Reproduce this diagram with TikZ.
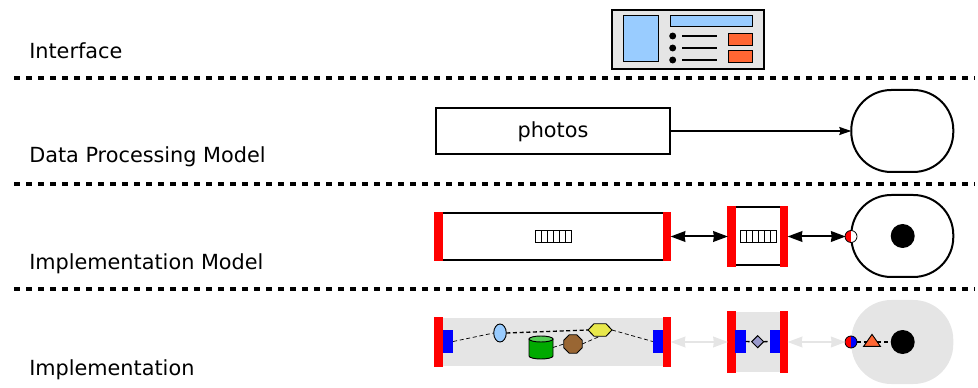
\documentclass[tikz,border=0pt]{standalone}
\usepackage{fontspec}
\setmainfont{DejaVu Sans}
\usepackage{xcolor}
\usetikzlibrary{positioning}
\usetikzlibrary{arrows.meta,shapes.geometric}
\definecolor{panelgray}{HTML}{E5E5E5}
\definecolor{skyblue}{HTML}{99CCFF}
\definecolor{orangered}{HTML}{FF6633}
\definecolor{filteryellow}{HTML}{E8E84C}
\definecolor{workerbrown}{HTML}{996633}
\definecolor{storegreen}{HTML}{00AA00}
\definecolor{storetop}{HTML}{55CC55}
\definecolor{switchblue}{HTML}{9999CC}
\tikzset{
  rowlabel/.style={anchor=base west, inner sep=0pt, font=\fontsize{15.6pt}{18pt}\selectfont},
  rowline/.style={line width=2.7pt, dash pattern=on 4.5pt off 4.5pt},
  redbar/.style={fill=red, inner sep=0pt, outer sep=0pt, minimum width=6.4pt},
  bluebar/.style={fill=blue, inner sep=0pt, outer sep=0pt, minimum width=7.8pt, minimum height=17.2pt},
  box/.style={draw=black, line width=1.5pt, inner sep=0pt, outer sep=0pt},
  graybox/.style={fill=panelgray, inner sep=0pt, outer sep=0pt},
  oval/.style={rectangle, rounded corners=30pt, inner sep=0pt, outer sep=0pt, minimum width=76.5pt},
  cell/.style={draw=black, line width=0.6pt, fill=white, inner sep=0pt, outer sep=0pt, minimum width=4.5pt, minimum height=9.4pt},
  part/.style={draw=black, line width=0.7pt, inner sep=0pt, outer sep=0pt},
  dot/.style={circle, fill=black, inner sep=0pt, outer sep=0pt, minimum size=18pt},
  wire/.style={densely dashed, line width=0.55pt},
  thickwire/.style={densely dashed, line width=1pt},
  biarrow/.style={{Stealth[length=11pt,width=8pt,inset=0.5pt]}-{Stealth[length=11pt,width=8pt,inset=0.5pt]}, line width=1.5pt, shorten <=-0.5pt, shorten >=-0.5pt},
  grayarrow/.style={biarrow, draw=panelgray, fill=panelgray},
}
\begin{document}
\begin{tikzpicture}[x=0.75pt,y=-0.75pt]
 \useasboundingbox (0,0) rectangle (978,388);

 % layer names and separators
 \foreach \y/\name in {59/Interface,163/Data Processing Model,270/Implementation Model,375/Implementation}{
   \node[rowlabel] at (29,\y) {\name};
 }
 \foreach \y in {78,184,289}{
   \draw[rowline] (14,\y) -- (975,\y);
 }

 % interface
 \node[part, line width=1.5pt, fill=panelgray, minimum width=114pt, minimum height=44pt] (screen) at (687.5,39.5) {};
 \node[part, fill=skyblue, minimum width=26.2pt, minimum height=35.2pt] (picture) at (640.5,38.5) {};
 \node[part, fill=skyblue, minimum width=61.5pt, minimum height=8.5pt] (title) at (711,21) {};
 \foreach \y in {36,48,60}{
   \node[circle, fill=black, inner sep=0pt, minimum size=5.2pt] (bullet\y) at (672.7,\y) {};
   \coordinate (textend\y) at (717,\y);
   \draw[line width=1.5pt] (682,\y) -- (textend\y);
 }
 \node[part, fill=orangered, minimum width=18pt, minimum height=9pt] (buttona) at (740,39) {};
 \node[part, fill=orangered, minimum width=18pt, minimum height=9pt] (buttonb) at (740,56) {};

 % data processing model
 \node[box, minimum width=175.5pt, minimum height=34.5pt, font=\fontsize{15.6pt}{18pt}\selectfont] (photos) at (553,131) {\raisebox{-4.6pt}[0pt][0pt]{photos}};
 \node[box, oval, minimum height=61.5pt] (viewa) at (902.3,131) {};
 \draw[line width=1.1pt, -{Stealth[length=9pt,width=6pt,inset=1pt]}] (photos) -- (viewa);

 % implementation model
 \node[box, minimum width=167pt, minimum height=35pt] (modela) at (552.5,236.5) {};
 \node[box, minimum width=39pt, minimum height=43.5pt] (modelb) at (757.5,236.5) {};
 \node[box, oval, minimum height=61.5pt] (viewb) at (902.3,236) {};
 \node[redbar, minimum height=36.5pt] (bara) at (438.5,236.5) {};
 \node[redbar, minimum height=36.5pt] (barb) at (667,236.5) {};
 \node[redbar, minimum height=45.8pt] (barc) at (731.5,236.5) {};
 \node[redbar, minimum height=45.8pt] (bard) at (784,236.5) {};
 \foreach \i in {0,...,5}{
   \node[cell] (cella\i) at (538+\i*6,236.5) {};
   \node[cell] (cellb\i) at (743+\i*6,236.5) {};
 }
 \node[circle, draw=black, line width=0.6pt, fill=white, inner sep=0pt, outer sep=0pt, minimum size=9pt, path picture={\fill[red] (path picture bounding box.south west) rectangle (path picture bounding box.north);}] (porta) at (851,236.5) {};
 \node[dot] (corea) at (902.7,236) {};
 \draw[biarrow] (barb.east) -- (barc.west);
 \draw[biarrow] (bard.east) -- (porta.west);

 % implementation
 \node[graybox, minimum width=167pt, minimum height=36pt] (implb) at (552.5,342) {};
 \node[graybox, minimum width=39pt, minimum height=45pt] (implc) at (757.5,342) {};
 \node[graybox, oval, minimum height=63pt] (viewc) at (902.3,342) {};
 \node[redbar, minimum height=36.8pt] (bare) at (438.5,342) {};
 \node[redbar, minimum height=36.8pt] (barf) at (667,342) {};
 \node[redbar, minimum height=45.8pt] (barg) at (731.5,342) {};
 \node[redbar, minimum height=45.8pt] (barh) at (784,342) {};
 \node[bluebar] (bluee) at (448,341.5) {};
 \node[bluebar] (bluef) at (658,341.5) {};
 \node[bluebar] (blueg) at (740.5,341.5) {};
 \node[bluebar] (blueh) at (774.7,341.5) {};
 \node[part, ellipse, fill=skyblue, minimum width=9.4pt, minimum height=13.5pt] (source) at (500,333) {};
 \node[part, regular polygon, regular polygon sides=6, fill=filteryellow, xscale=1.2, yscale=0.72, minimum size=15pt] (filter) at (600,330) {};
 \node[inner sep=0pt, outer sep=0pt, minimum width=18pt, minimum height=17.5pt] (store) at (541,347.5) {};
 \draw[part, fill=storegreen] (529,339) -- (529,356) arc (180:0:12 and 3) -- (553,339) -- cycle;
 \draw[part, fill=storetop] (541,339) ellipse (12 and 3);
 \node[part, regular polygon, regular polygon sides=8, fill=workerbrown, minimum size=15pt] (worker) at (573,344) {};
 \draw[wire] (bluee.east) -- (source.west);
 \draw[thickwire] (source.east) -- (filter.west);
 \draw[wire] (filter.east) -- (bluef.west);
 \draw[wire] (store.east) -- (worker.west);
 \draw[wire] (worker.east) -- (filter.south);
 \node[part, diamond, fill=switchblue, minimum size=9pt] (switch) at (757.7,341.7) {};
 \draw[thickwire] (blueg.east) -- (switch.west);
 \draw[thickwire] (switch.east) -- (blueh.west);
 \node[circle, draw=black, line width=0.6pt, fill=blue, inner sep=0pt, outer sep=0pt, minimum size=9pt, path picture={\fill[red] (path picture bounding box.south west) rectangle (path picture bounding box.north);}] (portb) at (851,342) {};
 \node[part, isosceles triangle, isosceles triangle apex angle=70, shape border rotate=90, fill=orangered, minimum size=9pt] (codec) at (872,342) {};
 \node[dot] (coreb) at (902.7,342) {};
 \draw[thickwire] (portb.east) -- (codec.west);
 \draw[thickwire] (codec.east) -- (coreb.west);
 \draw[grayarrow] (barf.east) -- (barg.west);
 \draw[grayarrow] (barh.east) -- (portb.west);

\end{tikzpicture}
\end{document}
